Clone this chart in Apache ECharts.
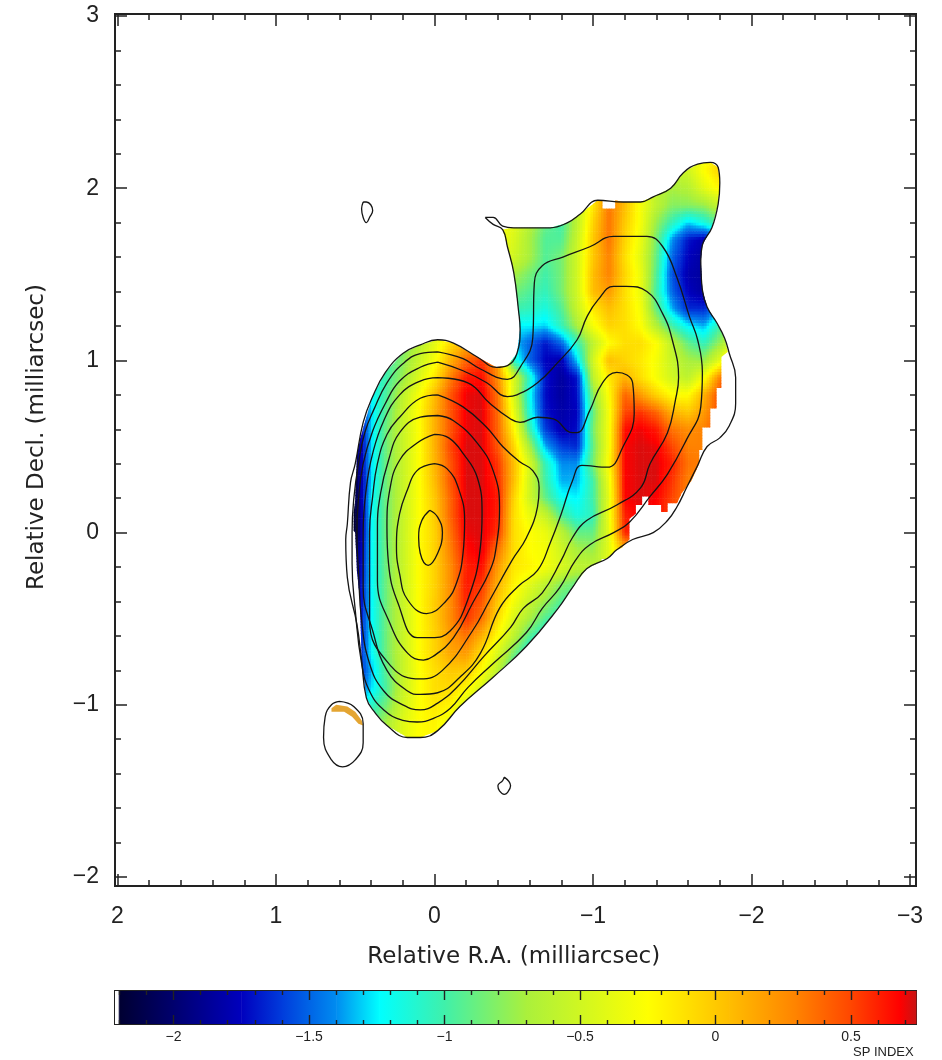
<!DOCTYPE html>
<html><head><meta charset="utf-8"><style>html,body{margin:0;padding:0;background:#fff}#c{width:942px;height:1060px}</style>
<script src="https://cdn.jsdelivr.net/npm/echarts@6/dist/echarts.min.js"></script></head><body><div id="c"></div>
<script>
const raTicks=[2,1,0,-1,-2,-3];
const declTicks=[3,2,1,0,-1,-2];
const barMajorTicks=[-2,-1.5,-1,-0.5,0,0.5];
const barMinorTicks=[-2.2,-2.1,-1.9,-1.8,-1.7,-1.6,-1.4,-1.3,-1.2,-1.1,-0.9,-0.8,-0.7,-0.6,-0.4,-0.3,-0.2,-0.1,0.1,0.2,0.3,0.4,0.6,0.7];
const gridColumns=[0.6,0.5,0.4,0.3,0.2,0.1,0,-0.1,-0.2,-0.3,-0.4,-0.5,-0.6,-0.7,-0.8,-0.9,-1,-1.1,-1.2,-1.3,-1.4,-1.5,-1.6,-1.7,-1.8,-1.9];
const gridRows=[2.2,2.1,2,1.9,1.8,1.7,1.6,1.5,1.4,1.3,1.2,1.1,1,0.9,0.8,0.7,0.6,0.5,0.4,0.3,0.2,0.1,0,-0.1,-0.2,-0.3,-0.4,-0.5,-0.6,-0.7,-0.8,-0.9,-1,-1.1,-1.2];
// each row: first column index, then spectral index read at successive columns
const spectralRows=[
[20,-.6,-.55,-.5,-.3,-.1],
[20,-.65,-.6,-.5,-.25,-.05],
[15,-.6,-.2,.25,.1,-.35,-.6,-.7,-.65,-.4,-.2],
[10,-.3,-.4,-.65,-.9,-.95,-.6,-.15,.35,.05,-.3,-.6,-.8,-.8,-.75,-.55],
[10,-.25,-.4,-.65,-.9,-1,-.6,-.05,.35,0,-.3,-.75,-1.05,-1.3,-1.15,-.9],
[10,-.3,-.45,-.7,-.95,-.95,-.55,0,.35,-.05,-.35,-.85,-1.4,-1.7,-1.8,-1.6],
[10,-.35,-.5,-.7,-.95,-.85,-.5,0,.3,-.1,-.4,-.9,-1.5,-1.75,-1.85,-1.75],
[10,-.5,-.7,-.85,-1,-.85,-.5,.05,.3,-.05,-.35,-.95,-1.55,-1.8,-1.85,-1.78],
[10,-.7,-.85,-.95,-1.05,-.85,-.5,.05,.2,-.1,-.35,-1,-1.5,-1.75,-1.85,-1.78],
[10,-.9,-1,-1.05,-1.15,-.95,-.55,-.15,.05,-.1,-.3,-.9,-1.35,-1.65,-1.65,-1.4],
[10,-1,-1.25,-1.25,-1.3,-1.05,-.7,-.3,-.05,-.1,-.25,-.65,-1,-1.25,-1.35,-1,-.7],
[3,-1,-.85,-.65,-.4,-.1,.1,.1,-.1,-1.3,-1.5,-1.7,-1.5,-1.05,-.6,-.25,-.1,-.1,-.25,-.6,-.9,-1.05,-.75,-.4],
[2,-1.2,-1,-.8,-.55,-.3,.1,.4,.55,.2,-1.1,-1.5,-1.75,-1.8,-1.3,-.5,.05,-.05,-.15,-.3,-.55,-.7,-.75,-.4,.2],
[1,-1.4,-1.2,-1,-.75,-.45,-.15,.3,.62,.65,.25,-.45,-1.1,-1.7,-1.85,-1.7,-.6,-.15,.1,-.1,-.3,-.5,-.6,-.3,.3,.6],
[1,-1.6,-1.25,-.95,-.6,-.3,.05,.45,.7,.72,.35,-.45,-1.2,-1.72,-1.85,-1.72,-.8,-.25,.4,.2,-.05,-.25,-.25,.1,.5,.7],
[1,-1.9,-1.3,-.9,-.55,-.25,.1,.45,.7,.72,.38,-.35,-1.15,-1.7,-1.82,-1.75,-.9,-.3,.5,.55,.4,.1,0,.2,.5,.7],
[1,-2,-1.3,-.85,-.55,-.27,.1,.45,.7,.72,.4,-.2,-1,-1.6,-1.8,-1.72,-.85,-.3,.65,.7,.62,.35,.25,.3,.5],
[1,-2.1,-1.3,-.85,-.55,-.27,.1,.5,.72,.72,.45,-.05,-.7,-1.35,-1.6,-1.65,-.9,-.3,.68,.72,.7,.5,.3,.3],
[1,-2.1,-1.3,-.85,-.55,-.27,.08,.45,.72,.72,.55,.05,-.45,-1.05,-1.4,-1.4,-.85,-.25,.68,.72,.72,.6,.35,.3],
[1,-2.15,-1.3,-.85,-.55,-.27,.05,.45,.72,.72,.58,.05,-.5,-1,-1.35,-1.35,-1,-.35,.68,.72,.72,.55,.3],
[0,-2.2,-2.15,-1.25,-.85,-.55,-.27,0,.4,.72,.72,.62,-.05,-.5,-.9,-1.2,-1.25,-1,-.4,.68,.72,.68,.5,.3],
[0,-2.2,-2.2,-1.25,-.85,-.55,-.27,-.02,.4,.72,.72,.6,-.1,-.35,-.55,-.95,-1.15,-1.05,-.35,.6,.7,.65,.5],
[0,-2.2,-2.2,-1.25,-.85,-.55,-.25,-.05,.35,.7,.72,.55,-.1,-.25,-.35,-.6,-.9,-.9,-.4,.6,.6],
[0,-2.2,-2.1,-1.25,-.85,-.55,-.25,-.05,.3,.65,.72,.35,-.1,-.25,-.3,-.5,-.7,-.75,-.4,.1],
[1,-2.05,-1.25,-.85,-.55,-.25,-.05,.25,.6,.65,.2,-.15,-.2,-.3,-.45,-.6,-.6],
[1,-2,-1.25,-.85,-.55,-.25,-.05,.25,.62,.55,.1,-.2,-.4,-.6,-.8,-.9],
[1,-2,-1.25,-.85,-.55,-.25,-.02,.25,.6,.45,0,-.3,-.55,-.75,-.95,-1],
[1,-1.95,-1.25,-.85,-.55,-.25,-.02,.25,.55,.35,-.1,-.45,-.7,-.95,-1.1],
[1,-1.9,-1.25,-.85,-.55,-.25,-.05,.2,.35,.1,-.25,-.6,-.95,-1.15],
[1,-1.85,-1.25,-.85,-.55,-.25,-.05,.15,.2,-.1,-.45,-.85,-1.15,-1.3],
[1,-1.8,-1.35,-.9,-.55,-.27,-.1,0,0,-.25,-.6,-1.05,-1.2],
[1,-1.6,-1.3,-.95,-.55,-.27,-.1,-.08,-.2,-.45,-.8,-1.15],
[1,-1.3,-1.1,-.85,-.5,-.27,-.15,-.2,-.45,-.7],
[2,-.95,-.7,-.42,-.25,-.2,-.35,-.6],
[2,-.9,-.65,-.4,-.25,-.22,-.4,-.6]
];
const contour1=[[-.32,1.83],[-.37,1.83],[-.43,1.78],[-.5,1.77],[-.73,1.77],[-.84,1.8],[-.92,1.85],[-1.03,1.93],[-1.19,1.92],[-1.3,1.92],[-1.38,1.95],[-1.49,2],[-1.57,2.09],[-1.66,2.14],[-1.74,2.15],[-1.79,2.12],[-1.8,2.03],[-1.79,1.91],[-1.75,1.77],[-1.69,1.67],[-1.68,1.58],[-1.69,1.41],[-1.72,1.31],[-1.78,1.22],[-1.83,1.13],[-1.86,1.04],[-1.9,.9],[-1.9,.8],[-1.9,.75],[-1.86,.62],[-1.8,.55],[-1.72,.5],[-1.66,.39],[-1.59,.26],[-1.53,.15],[-1.47,.07],[-1.38,0],[-1.25,-.04],[-1.15,-.1],[-1.09,-.15],[-.96,-.21],[-.87,-.32],[-.78,-.44],[-.58,-.66],[-.37,-.84],[-.16,-1.01],[-.02,-1.15],[.09,-1.19],[.17,-1.19],[.3,-1.12],[.38,-1.04],[.43,-.96],[.46,-.74],[.49,-.53],[.55,-.26],[.56,-.04],[.55,.05],[.53,.29],[.5,.4],[.45,.64],[.39,.79],[.31,.93],[.2,1.04],[.09,1.09],[-.02,1.12],[-.12,1.1],[-.27,1.02],[-.39,.96],[-.46,.97],[-.52,1.04],[-.54,1.18],[-.53,1.29],[-.5,1.51],[-.46,1.66],[-.43,1.76],[-.37,1.79],[-.32,1.83]];
const contour2=[[-.02,1.05],[-.18,1.01],[-.29,.95],[-.46,.89],[-.54,.96],[-.62,1.13],[-.63,1.45],[-.68,1.55],[-.81,1.6],[-.98,1.66],[-1.13,1.72],[-1.34,1.72],[-1.44,1.66],[-1.53,1.48],[-1.61,1.25],[-1.66,1.12],[-1.69,.93],[-1.68,.73],[-1.59,.54],[-1.47,.34],[-1.36,.21],[-1.23,.06],[-1.13,0],[-.98,-.07],[-.89,-.16],[-.79,-.32],[-.68,-.44],[-.58,-.58],[-.37,-.76],[-.21,-.9],[-.1,-1.02],[.01,-1.08],[.11,-1.1],[.2,-1.09],[.32,-1.03],[.41,-.92],[.46,-.76],[.5,-.45],[.52,-.18],[.52,0],[.51,.19],[.48,.4],[.44,.58],[.38,.72],[.3,.87],[.2,.98],[.09,1.04],[-.02,1.05]];
const contour3=[[-.02,.99],[-.18,.94],[-.33,.87],[-.46,.79],[-.52,.8],[-.65,.87],[-.77,.98],[-.9,1.12],[-.96,1.25],[-1.03,1.35],[-1.13,1.43],[-1.21,1.43],[-1.34,1.4],[-1.44,1.27],[-1.5,1.12],[-1.54,.9],[-1.52,.77],[-1.47,.58],[-1.36,.4],[-1.3,.26],[-1.15,.16],[-.96,.07],[-.87,-.03],[-.8,-.16],[-.68,-.35],[-.56,-.44],[-.48,-.55],[-.31,-.72],[-.14,-.9],[-.02,-.99],[.09,-1.03],[.2,-1],[.32,-.92],[.41,-.76],[.46,-.51],[.48,-.22],[.49,0],[.48,.19],[.45,.4],[.39,.59],[.31,.75],[.22,.88],[.09,.96],[-.02,.99]];
const contour4=[[-.02,.9],[-.21,.87],[-.35,.75],[-.48,.66],[-.54,.64],[-.65,.67],[-.75,.66],[-.87,.58],[-.9,.58],[-.98,.71],[-1.06,.87],[-1.15,.93],[-1.25,.87],[-1.26,.69],[-1.19,.5],[-1.09,.38],[-.93,.39],[-.87,.3],[-.8,.11],[-.73,-.06],[-.65,-.22],[-.53,-.31],[-.41,-.44],[-.29,-.7],[-.16,-.84],[-.02,-.93],[.09,-.94],[.17,-.92],[.3,-.8],[.39,-.57],[.45,-.32],[.45,0],[.43,.26],[.39,.46],[.32,.65],[.22,.8],[.09,.88],[-.02,.9]];
const contour5=[[-.02,.8],[-.18,.73],[-.33,.61],[-.43,.5],[-.54,.41],[-.62,.36],[-.66,.26],[-.65,.15],[-.58,-.03],[-.49,-.16],[-.35,-.39],[-.24,-.57],[-.05,-.8],[.09,-.85],[.27,-.78],[.41,-.51],[.41,0],[.39,.21],[.36,.4],[.3,.57],[.22,.67],[.09,.78],[-.02,.8]];
const contour6=[[-.02,.68],[-.12,.65],[-.27,.52],[-.37,.36],[-.41,.15],[-.39,-.08],[-.35,-.22],[-.24,-.41],[-.12,-.61],[.01,-.72],[.07,-.74],[.17,-.7],[.28,-.53],[.36,-.28],[.36,.03],[.34,.23],[.29,.42],[.22,.58],[.09,.67],[-.02,.68]];
const contour7=[[0,.57],[-.09,.55],[-.18,.46],[-.27,.32],[-.3,.11],[-.29,-.08],[-.21,-.39],[-.1,-.57],[.02,-.61],[.11,-.61],[.23,-.41],[.29,-.18],[.3,.03],[.28,.26],[.22,.42],[.11,.52],[0,.57]];
const contour8=[[0,.4],[-.08,.37],[-.15,.26],[-.19,.07],[-.18,-.12],[-.14,-.29],[-.07,-.4],[.05,-.47],[.17,-.39],[.22,-.24],[.24,-.08],[.22,.11],[.17,.25],[.11,.36],[0,.4]];
const contour9=[[.03,.13],[-.02,.09],[-.05,0],[-.02,-.12],[.04,-.19],[.09,-.12],[.1,-.03],[.08,.07],[.03,.13]];
const blobUpper=[[.45,1.92],[.43,1.92],[.39,1.87],[.41,1.83],[.43,1.8],[.45,1.83],[.46,1.88],[.45,1.92]];
const blobLower=[[-.44,-1.42],[-.48,-1.47],[-.46,-1.51],[-.44,-1.52],[-.41,-1.5],[-.4,-1.47],[-.43,-1.44],[-.44,-1.42]];
const blobLeft=[[.6,-.98],[.51,-1.01],[.45,-1.11],[.45,-1.22],[.5,-1.32],[.58,-1.36],[.65,-1.32],[.7,-1.19],[.69,-1.07],[.65,-1],[.6,-.98]];
const colourMask=[[-.43,1.76],[-.5,1.77],[-.73,1.77],[-.84,1.8],[-.92,1.85],[-1.03,1.93],[-1.06,1.93],[-1.06,1.88],[-1.14,1.88],[-1.14,1.93],[-1.19,1.92],[-1.3,1.92],[-1.38,1.95],[-1.49,2],[-1.57,2.09],[-1.66,2.14],[-1.74,2.15],[-1.79,2.12],[-1.8,2.03],[-1.79,1.91],[-1.75,1.77],[-1.69,1.67],[-1.68,1.58],[-1.69,1.41],[-1.72,1.31],[-1.78,1.22],[-1.83,1.13],[-1.85,1.05],[-1.81,1.02],[-1.81,.84],[-1.78,.84],[-1.78,.72],[-1.74,.72],[-1.74,.61],[-1.69,.61],[-1.69,.48],[-1.67,.48],[-1.67,.4],[-1.62,.3],[-1.56,.23],[-1.53,.17],[-1.47,.17],[-1.47,.12],[-1.43,.12],[-1.43,.16],[-1.35,.16],[-1.35,.21],[-1.31,.21],[-1.31,.16],[-1.27,.16],[-1.27,.11],[-1.23,.08],[-1.23,-.04],[-1.18,-.09],[-1.15,-.1],[-1.09,-.15],[-.96,-.21],[-.87,-.32],[-.78,-.44],[-.58,-.66],[-.37,-.84],[-.16,-1.01],[-.02,-1.15],[.09,-1.19],[.17,-1.19],[.3,-1.12],[.38,-1.04],[.43,-.96],[.46,-.74],[.47,-.39],[.49,-.22],[.5,0],[.51,.01],[.51,.12],[.5,.19],[.49,.45],[.47,.54],[.44,.64],[.39,.79],[.31,.93],[.2,1.04],[.09,1.09],[-.02,1.12],[-.12,1.1],[-.27,1.02],[-.39,.96],[-.46,.97],[-.52,1.04],[-.54,1.18],[-.53,1.29],[-.5,1.51],[-.46,1.66],[-.43,1.76]];
const spotMask=[[.65,-1.02],[.62,-1],[.55,-1.01],[.5,-1.04],[.46,-1.09],[.45,-1.12],[.48,-1.11],[.52,-1.07],[.57,-1.04],[.65,-1.04]];
const spotValue=0.08;
const paletteValues=[-2.216,-2.205,-2.2,-2,-1.75,-1.6,-1.4,-1.24,-1,-0.7,-0.25,0.05,0.3,0.5,0.68,0.74];
const paletteColours=[[255,255,255],[255,255,255],[0,0,50],[0,0,110],[0,0,190],[0,60,220],[0,140,240],[0,255,255],[64,240,170],[170,240,60],[255,255,0],[255,190,0],[255,130,0],[255,70,0],[255,0,0],[200,20,20]];

const matrix=spectralRows.map(r=>{const a=new Array(gridColumns.length).fill(null);r.slice(1).forEach((v,i)=>a[r[0]+i]=v);return a;});
const at=(r,c)=>(matrix[r]&&matrix[r][c]!=null)?matrix[r][c]:null;
function colourOf(v){
  if(v<=-2.2)v=-2.2;
  for(let i=2;i<paletteValues.length-1;i++){
    if(v<=paletteValues[i+1]){
      const t=(v-paletteValues[i])/(paletteValues[i+1]-paletteValues[i]);
      const a=paletteColours[i],b=paletteColours[i+1];
      return 'rgb('+a.map((q,k)=>Math.round(q+(b[k]-q)*t)).join(',')+')';
    }
  }
  return 'rgb(200,20,20)';
}
const cellData=[];
matrix.forEach((row,r)=>row.forEach((v,c)=>{if(v!=null)cellData.push([gridColumns[c],gridRows[r],v,c,r]);}));
const SUB=6;
function renderCell(params,api){
  const x=api.value(0),y=api.value(1),v=api.value(2),c=api.value(3),r=api.value(4);
  const kids=[];
  for(let i=0;i<SUB;i++)for(let j=0;j<SUB;j++){
    const fx=(i+.5)/SUB-.5,fy=(j+.5)/SUB-.5,sx=fx<0?-1:1,sy=fy<0?-1:1,ax=Math.abs(fx),ay=Math.abs(fy);
    const vx=at(r,c+sx),vy=at(r+sy,c);let vxy=at(r+sy,c+sx);
    const A=vx==null?v:vx,B=vy==null?v:vy;if(vxy==null)vxy=(A+B)/2;
    const val=v*(1-ax)*(1-ay)+A*ax*(1-ay)+B*(1-ax)*ay+vxy*ax*ay;
    const p0=api.coord([x-(i/SUB-.5)*.1,y-(j/SUB-.5)*.1]);
    const p1=api.coord([x-((i+1)/SUB-.5)*.1,y-((j+1)/SUB-.5)*.1]);
    kids.push({type:'rect',shape:{x:p0[0],y:p0[1],width:p1[0]-p0[0]+.6,height:p1[1]-p0[1]+.6},style:{fill:colourOf(val)}});
  }
  return {type:'group',children:kids,clipPath:{type:'polygon',shape:{points:colourMask.map(p=>api.coord(p))}}};
}
function renderSpot(params,api){
  if(params.dataIndex!==0)return null;
  return {type:'polygon',shape:{points:spotMask.map(p=>api.coord(p))},style:{fill:'rgb(228,165,50)'}};
}
function renderBar(params,api){
  const i=params.dataIndex;
  if(i>=paletteValues.length-1)return null;
  const p0=api.coord([paletteValues[i],1]),p1=api.coord([paletteValues[i+1],0]);
  const s=q=>'rgb('+q.join(',')+')';
  return {type:'rect',shape:{x:p0[0],y:p0[1],width:p1[0]-p0[0]+.5,height:p1[1]-p0[1]},
    style:{fill:{type:'linear',x:0,y:0,x2:1,y2:0,colorStops:[{offset:0,color:s(paletteColours[i])},{offset:1,color:s(paletteColours[i+1])}]}}};
}
const INK='#222';
const signed=v=>v<0?'\u2212'+Math.abs(v):String(v);
const numFont={fontFamily:'Liberation Sans',fontSize:23,color:INK};
const titleFont={fontFamily:'DejaVu Sans',fontSize:23,color:INK};
function mainX(pos,offset,extra){return Object.assign({type:'value',gridIndex:0,position:pos,offset,min:-3,max:2,inverse:true,interval:1,splitLine:{show:false},minorSplitLine:{show:false},
  axisLine:{show:false,onZero:false},axisTick:{show:true,inside:true,length:12,lineStyle:{color:INK,width:1.5}},minorTick:{show:true,splitNumber:5,length:6,lineStyle:{color:INK,width:1.5}},axisLabel:{show:false}},extra||{});}
function mainY(pos,offset,extra){return Object.assign({type:'value',gridIndex:0,position:pos,offset,min:-2,max:3,interval:1,splitLine:{show:false},minorSplitLine:{show:false},
  axisLine:{show:false,onZero:false},axisTick:{show:true,inside:true,length:12,lineStyle:{color:INK,width:1.5}},minorTick:{show:true,splitNumber:5,length:6,lineStyle:{color:INK,width:1.5}},axisLabel:{show:false}},extra||{});}
function barX(pos,vals,len,extra){return Object.assign({type:'value',gridIndex:1,position:pos,z:6,min:-2.216,max:0.74,splitLine:{show:false},axisLine:{show:false,onZero:false},
  axisTick:{show:true,inside:true,length:len,customValues:vals,lineStyle:{color:'#222',width:1.4}},axisLabel:{show:false}},extra||{});}
const contours=[contour1,contour2,contour3,contour4,contour5,contour6,contour7,contour8,contour9,blobUpper,blobLower,blobLeft];
const chart=echarts.init(document.getElementById('c'),null,{renderer:'canvas'});
chart.setOption({
  animation:false,backgroundColor:'#fff',
  grid:[
    {left:117.5,top:16,width:792.5,height:861,containLabel:false},
    {left:115,top:991,width:801,height:33,show:true,borderColor:'#222',borderWidth:2,backgroundColor:'transparent'},
    {left:115,top:14,width:801,height:872,show:true,borderColor:'#222',borderWidth:2,backgroundColor:'transparent'}
  ],
  xAxis:[
    mainX('bottom',9,{name:'Relative R.A. (milliarcsec)',nameLocation:'middle',nameGap:60,nameTextStyle:titleFont,
      axisLabel:Object.assign({show:true,margin:19,formatter:signed},numFont)}),
    mainX('top',2),
    barX('bottom',barMajorTicks,9,{axisLabel:{show:true,customValues:barMajorTicks,margin:6,formatter:signed,fontFamily:'Liberation Sans',fontSize:14,color:INK}}),
    barX('bottom',barMinorTicks,4),
    barX('top',barMajorTicks,9),
    barX('top',barMinorTicks,4)
  ],
  yAxis:[
    mainY('left',2.5,{name:'Relative Decl. (milliarcsec)',nameLocation:'middle',nameGap:66,nameTextStyle:Object.assign({padding:[0,0,0,19]},titleFont),
      axisLabel:Object.assign({show:true,margin:16,formatter:signed},numFont)}),
    mainY('right',6),
    {type:'value',gridIndex:1,min:0,max:1,show:false}
  ],
  graphic:[{type:'text',left:853,top:1046,style:{text:'SP INDEX',fontFamily:'Liberation Sans',fontSize:13,fill:INK}}],
  series:[
    {type:'custom',name:'spectral index',xAxisIndex:0,yAxisIndex:0,data:cellData,renderItem:renderCell,silent:true,z:1,encode:{x:0,y:1},dimensions:['ra','decl','sp','col','row']},
    {type:'custom',name:'spot',xAxisIndex:0,yAxisIndex:0,data:spotMask.map(p=>[p[0],p[1],spotValue]),renderItem:renderSpot,silent:true,z:1,encode:{x:0,y:1}},
    {type:'custom',name:'colour bar',xAxisIndex:2,yAxisIndex:2,data:paletteValues.map(v=>[v,0.5]),renderItem:renderBar,silent:true,z:1,encode:{x:0,y:1}}
  ].concat(contours.map((d,i)=>({type:'line',name:'contour '+(i+1),xAxisIndex:0,yAxisIndex:0,data:d,showSymbol:false,symbol:'none',smooth:0.45,silent:true,z:3,clip:false,
    lineStyle:{color:'#151515',width:1.3}})))
});
</script></body></html>
